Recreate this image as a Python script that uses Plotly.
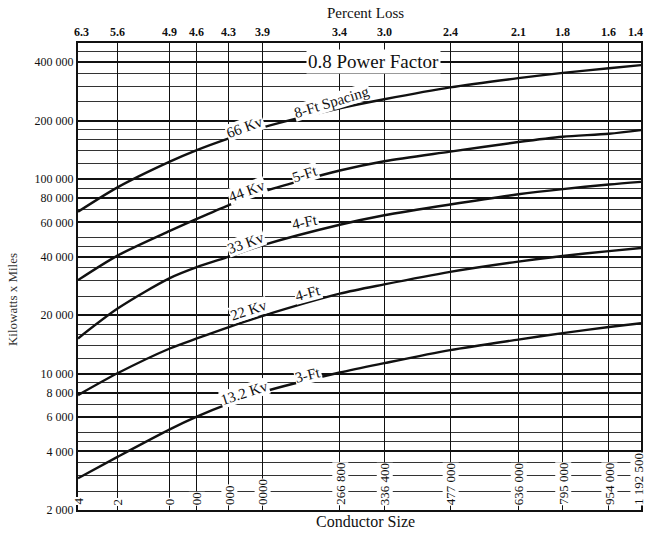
import plotly.graph_objects as go

# conductor sizes along the bottom, percent loss along the top
conductor_sizes = ['4', '2', '0', '00', '000', '0000', '266 800', '336 400',
                   '477 000', '636 000', '795 000', '954 000', '1 192 500']
percent_loss = ['6.3', '5.6', '4.9', '4.6', '4.3', '3.9', '3.4', '3.0',
                '2.4', '2.1', '1.8', '1.6', '1.4']
size_scale = [0, 7.1, 16.3, 21.1, 26.8, 32.7, 46.5, 54.4, 66.1, 78.2, 86.1, 94.3, 100]

kv_66 = [68000, 91000, 123000, 141000, 162000, 184000, 231000, 257000,
         296000, 330000, 351000, 371000, 385000]
kv_44 = [30300, 40600, 54200, 62500, 73600, 85700, 110700, 123600,
         138400, 155000, 165000, 171000, 178600]
kv_33 = [15200, 21700, 31000, 35300, 40000, 45700, 58300, 65200,
         74100, 83600, 88900, 93800, 96800]
kv_22 = [7780, 10100, 13500, 15200, 17400, 19800, 25800, 28800,
         33400, 37700, 40300, 42700, 44300]
kv_13 = [2910, 3760, 5190, 6030, 7030, 8050, 10160, 11350,
         13240, 15000, 16200, 17400, 18200]

y_ticks = [2000, 4000, 6000, 8000, 10000, 20000, 40000, 60000, 80000,
           100000, 200000, 400000]
y_ticktext = ['2 000', '4 000', '6 000', '8 000', '10 000', '20 000', '40 000',
              '60 000', '80 000', '100 000', '200 000', '400 000']
y_grid = [2500, 3000, 3500, 4500, 5000, 7000, 9000, 12000, 14000, 16000, 18000,
          25000, 30000, 35000, 45000, 50000, 70000, 90000, 120000, 140000,
          160000, 180000, 250000, 300000, 350000, 450000]

FONT = 'Liberation Serif'
INK = '#111111'

fig = go.Figure()
for vals in [kv_66, kv_44, kv_33, kv_22, kv_13]:
    fig.add_trace(go.Scatter(x=size_scale, y=vals, mode='lines',
                             line=dict(color=INK, width=2.4, shape='spline', smoothing=0.8),
                             showlegend=False, hoverinfo='skip'))

# curve labels: (text, x, log10 y, angle)
labels = [('66 Kv', 29.7, 5.267, -20), ('8-Ft Spacing', 45.1, 5.395, -17),
          ('44 Kv', 30.0, 4.939, -20), ('5-Ft', 40.3, 5.026, -18),
          ('33 Kv', 29.8, 4.672, -20), ('4-Ft', 40.3, 4.779, -12),
          ('22 Kv', 30.4, 4.328, -18), ('4-Ft', 40.9, 4.415, -15),
          ('13.2 Kv', 29.5, 3.902, -18), ('3-Ft', 40.9, 3.994, -14)]
for txt, lx, ly, ang in labels:
    fig.add_annotation(x=lx, y=ly, xref='x', yref='y', text=txt, showarrow=False,
                       textangle=ang, bgcolor='white', borderpad=0,
                       font=dict(family=FONT, size=15, color=INK))

fig.add_annotation(x=52.4, y=5.602, xref='x', yref='y', text='0.8 Power Factor',
                   showarrow=False, bgcolor='white', borderpad=1,
                   font=dict(family=FONT, size=19, color=INK))

# conductor size labels written up the vertical lines, percent loss on top
last = len(size_scale) - 1
for i, (pos, name) in enumerate(zip(size_scale, conductor_sizes)):
    ax = pos - 0.01 if i == last else pos
    fig.add_annotation(x=ax, y=0, xref='x', yref='paper', yanchor='bottom',
                       yshift=4, xshift=(-3 if i == last else 0), text=name,
                       textangle=-90, showarrow=False, bgcolor='white', borderpad=0,
                       font=dict(family=FONT, size=13, color=INK))
    shift = 3 if i == 0 else (-5 if i == last else 0)
    fig.add_annotation(x=ax, y=1, xref='x', yref='paper', yanchor='bottom',
                       yshift=2, xshift=shift, text='<b>' + percent_loss[i] + '</b>',
                       showarrow=False, font=dict(family=FONT, size=12, color=INK))

fig.add_annotation(x=0.51, y=1, xref='paper', yref='paper', yanchor='bottom', yshift=20,
                   text='Percent Loss', showarrow=False,
                   font=dict(family=FONT, size=15, color=INK))
fig.add_annotation(x=-0.115, y=0.45, xref='paper', yref='paper', xanchor='center',
                   text='Kilowatts x Miles', textangle=-90, showarrow=False,
                   font=dict(family=FONT, size=13, color='#333333'))
fig.add_annotation(x=0.51, y=0, xref='paper', yref='paper', yanchor='top', yshift=-1,
                   text='Conductor Size', showarrow=False,
                   font=dict(family=FONT, size=16, color=INK))

fig.update_layout(
    width=647, height=536,
    margin=dict(l=78, r=6, t=43, b=26),
    plot_bgcolor='white', paper_bgcolor='white',
    xaxis=dict(range=[0, 100], tickmode='array', tickvals=size_scale,
               showticklabels=False, ticks='', showgrid=True, gridcolor=INK,
               gridwidth=1.2, showline=True, linecolor=INK, linewidth=2,
               mirror=True, zeroline=False, automargin=False),
    yaxis=dict(type='log', range=[3.301, 5.699], tickmode='array',
               tickvals=y_ticks, ticktext=y_ticktext, ticks='',
               showgrid=True, gridcolor=INK, gridwidth=1.5,
               showline=True, linecolor=INK, linewidth=2, mirror=True,
               zeroline=False, automargin=False,
               tickfont=dict(family=FONT, size=12, color=INK),
               minor=dict(tickmode='array', tickvals=y_grid, showgrid=True,
                          gridcolor='#333333', gridwidth=1, ticks='')),
)

fig.write_html('out.html', config={'displayModeBar': False},
               post_script="document.body.style.margin='0';")
